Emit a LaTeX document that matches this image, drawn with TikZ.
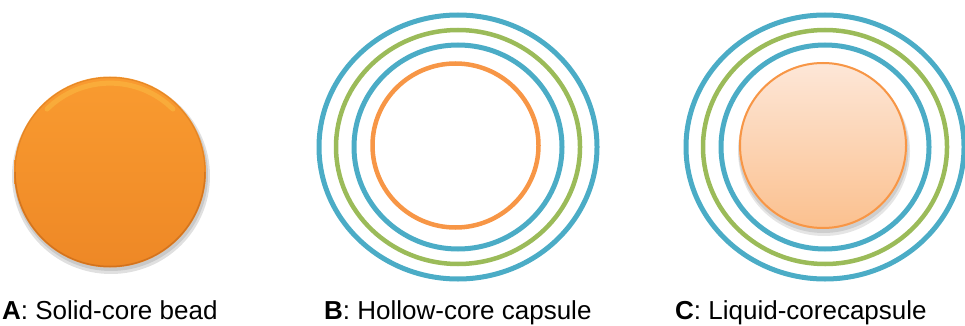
\documentclass[tikz,border=0pt]{standalone}
\usepackage{fontspec}
\setmainfont{Liberation Sans}
\usetikzlibrary{shadows,fadings}
\definecolor{ringblue}{HTML}{4BACC6}
\definecolor{ringgreen}{HTML}{9BBB59}
\definecolor{ringorange}{HTML}{F79646}
\definecolor{beadtop}{HTML}{F99B30}
\definecolor{beadbot}{HTML}{EE8826}
\definecolor{beadedge}{HTML}{B85E16}
\definecolor{liqtop}{HTML}{FDE7D8}
\definecolor{liqbot}{HTML}{FBC08E}
\tikzset{
  blueRing/.style={draw=ringblue, line width=5pt},
  greenRing/.style={draw=ringgreen, line width=4.5pt},
  orangeRing/.style={draw=ringorange, line width=4.5pt},
  lab/.style={font=\fontsize{26}{30}\selectfont, anchor=base west, inner sep=0pt, text=black},
}
\begin{document}
\begin{tikzpicture}[x=1pt,y=-1pt]
\useasboundingbox (0,0) rectangle (965,326);
% A: solid-core bead
\fill[black, opacity=0.12] (111,176) ellipse (99 and 98);
\fill[black, opacity=0.10] (111,175) ellipse (97 and 96);
\shade[top color=beadtop, bottom color=beadbot] (110,172) ellipse (96 and 95.5);
\draw[beadedge, line width=1.5pt, opacity=0.5] (110,172) ++(0:95) arc[start angle=0, end angle=180, x radius=95, y radius=94.5];
\draw[beadedge, line width=1pt, opacity=0.3] (110,172) ++(180:95) arc[start angle=180, end angle=360, x radius=95, y radius=94.5];
\draw[yellow!60!white, line width=5pt, opacity=0.2, line cap=round] (110,172) ++(225:89) arc[start angle=225, end angle=315, x radius=89, y radius=88.5];
\node[coordinate] (a) at (110,172) {};
% B: hollow-core capsule
\node[coordinate] (b) at (458,147) {};
\draw[blueRing] (b) ellipse (139 and 132);
\draw[greenRing] (b) ellipse (122 and 117);
\draw[blueRing] (b) ellipse (104 and 102);
\draw[orangeRing] (455.5,145.5) ellipse (83 and 82);
% C: liquid-core capsule
\node[coordinate] (c) at (825,147) {};
\draw[blueRing] (c) ellipse (139 and 132);
\draw[greenRing] (c) ellipse (122 and 117);
\draw[blueRing] (c) ellipse (104 and 102);
\fill[black, opacity=0.10] (824,151) ellipse (86 and 85);
\fill[black, opacity=0.10] (823.5,149) ellipse (85 and 84);
\shade[top color=liqtop, bottom color=liqbot] (823,145.5) ellipse (84 and 83.5);
\draw[ringorange, line width=2pt] (823,145.5) ellipse (83 and 82.5);
% labels
\node[lab] (la) at (2,319) {\textbf{A}: Solid-core bead};
\node[lab] (lb) at (324,319) {\textbf{B}: Hollow-core capsule};
\node[lab] (lc) at (675,319) {\textbf{C}: Liquid-corecapsule};
\end{tikzpicture}
\end{document}
